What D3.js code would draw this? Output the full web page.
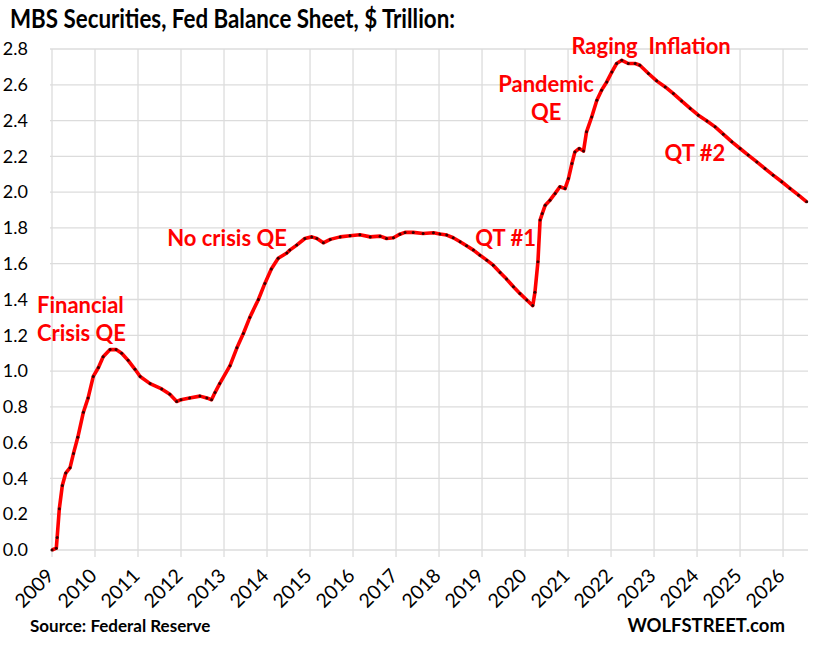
<!DOCTYPE html>
<html>
<head>
<meta charset="utf-8">
<script src="https://cdn.jsdelivr.net/npm/d3@7"></script>
<style>
  body { margin: 0; background: #fff; }
  text { font-family: Lato, "Open Sans", sans-serif; }
</style>
</head>
<body>
<div id="chart"></div>
<script>
// decimal years and MBS holdings ($ trillion)
const dates = [2009.00, 2009.10, 2009.12, 2009.17, 2009.24, 2009.32, 2009.42, 2009.50, 2009.60, 2009.73,
  2009.84, 2009.96, 2010.08, 2010.19, 2010.35, 2010.49, 2010.62, 2010.77, 2010.93, 2011.05,
  2011.28, 2011.55, 2011.74, 2011.90, 2012.00, 2012.20, 2012.44, 2012.60, 2012.71, 2012.79,
  2012.90, 2013.14, 2013.30, 2013.45, 2013.60, 2013.80, 2013.95, 2014.10, 2014.26, 2014.46,
  2014.53, 2014.69, 2014.88, 2015.04, 2015.16, 2015.31, 2015.47, 2015.70, 2015.93, 2016.16,
  2016.40, 2016.63, 2016.78, 2016.94, 2017.09, 2017.21, 2017.40, 2017.63, 2017.87, 2018.02,
  2018.18, 2018.33, 2018.49, 2018.64, 2018.80, 2018.95, 2019.11, 2019.26, 2019.42, 2019.57,
  2019.73, 2019.88, 2020.04, 2020.18, 2020.23, 2020.30, 2020.35, 2020.40, 2020.47, 2020.58,
  2020.70, 2020.81, 2020.93, 2021.01, 2021.09, 2021.16, 2021.26, 2021.36, 2021.43, 2021.55,
  2021.67, 2021.78, 2021.90, 2022.02, 2022.13, 2022.25, 2022.40, 2022.56, 2022.67, 2022.87,
  2023.06, 2023.26, 2023.45, 2023.64, 2023.84, 2024.03, 2024.23, 2024.42, 2024.61, 2024.81,
  2025.00, 2025.19, 2025.39, 2025.58, 2025.77, 2025.97, 2026.16, 2026.36, 2026.55];
const mbs = [0.00, 0.01, 0.07, 0.23, 0.36, 0.43, 0.46, 0.54, 0.63, 0.77,
  0.85, 0.97, 1.02, 1.08, 1.12, 1.12, 1.10, 1.06, 1.01, 0.97,
  0.93, 0.90, 0.87, 0.83, 0.84, 0.85, 0.86, 0.85, 0.84, 0.88,
  0.93, 1.03, 1.13, 1.21, 1.30, 1.40, 1.49, 1.57, 1.63, 1.66,
  1.676, 1.704, 1.741, 1.75, 1.741, 1.717, 1.736, 1.75, 1.756, 1.762,
  1.75, 1.754, 1.741, 1.745, 1.765, 1.775, 1.775, 1.769, 1.773, 1.766,
  1.76, 1.745, 1.723, 1.70, 1.676, 1.648, 1.62, 1.592, 1.551, 1.514,
  1.471, 1.434, 1.397, 1.366, 1.44, 1.611, 1.844, 1.88, 1.927, 1.955,
  1.993, 2.03, 2.02, 2.076, 2.16, 2.225, 2.244, 2.23, 2.337, 2.42,
  2.514, 2.57, 2.616, 2.672, 2.719, 2.737, 2.719, 2.719, 2.709, 2.663,
  2.622, 2.588, 2.551, 2.51, 2.468, 2.43, 2.398, 2.365, 2.324, 2.281,
  2.244, 2.207, 2.169, 2.132, 2.095, 2.058, 2.021, 1.983, 1.946];

const yearTicks = d3.range(2009, 2027);
const valueTicks = d3.range(0, 2.81, 0.2);

// annotation text, anchored at (year, value) of its baseline
const notes = [
  {lines: ["Financial", "Crisis QE"], x: 2009.0, v: 1.325, anchor: "start"},
  {lines: ["No crisis QE"], x: 2013.07, v: 1.70, anchor: "middle"},
  {lines: ["QT #1"], x: 2019.55, v: 1.70, anchor: "middle"},
  {lines: ["Pandemic", "QE"], x: 2020.49, v: 2.56, anchor: "middle"},
  {lines: ["Raging  Inflation"], x: 2022.93, v: 2.77, anchor: "middle"},
  {lines: ["QT #2"], x: 2023.95, v: 2.175, anchor: "middle"}
];

const width = 816, height = 647;
const margin = {top: 49, right: 8, bottom: 97, left: 52};

const svg = d3.select("#chart").append("svg")
  .attr("width", width).attr("height", height);

const x = d3.scaleLinear()
  .domain([2009, 2026.58])
  .range([margin.left, width - margin.right]);
const y = d3.scaleLinear()
  .domain([0, 2.8])
  .range([height - margin.bottom, margin.top]);

// gridlines
svg.append("g")
  .selectAll("line")
  .data(valueTicks)
  .join("line")
  .attr("x1", x.range()[0] - 2).attr("x2", x.range()[1])
  .attr("y1", d => y(d)).attr("y2", d => y(d))
  .attr("stroke", "#dcdcdc").attr("stroke-width", 1.3);

svg.append("g")
  .selectAll("line")
  .data(yearTicks)
  .join("line")
  .attr("x1", d => x(d)).attr("x2", d => x(d))
  .attr("y1", y(2.8)).attr("y2", y(0) + 7)
  .attr("stroke", "#dcdcdc").attr("stroke-width", 1.3);

// y axis labels
svg.append("g")
  .attr("transform", `translate(${margin.left - 21},0)`)
  .call(d3.axisLeft(y).tickValues(valueTicks).tickFormat(d3.format(".1f")).tickSize(0))
  .call(g => g.select(".domain").remove())
  .call(g => g.selectAll("text")
    .attr("font-family", "Lato, sans-serif")
    .attr("font-size", 18).attr("fill", "#000"));

// x axis labels, rotated
svg.append("g")
  .selectAll("text")
  .data(yearTicks)
  .join("text")
  .attr("transform", d => `translate(${x(d) + 3},${y(0) + 27}) rotate(-45)`)
  .attr("text-anchor", "end")
  .attr("font-size", 19.5)
  .attr("fill", "#000")
  .text(d => d);

// the series
const pts = dates.map((d, i) => [d, mbs[i]]);
const line = d3.line().x(d => x(d[0])).y(d => y(d[1]));

svg.append("path")
  .datum(pts)
  .attr("fill", "none")
  .attr("stroke", "#ff0000")
  .attr("stroke-width", 3.6)
  .attr("stroke-linejoin", "round")
  .attr("d", line);

svg.append("g")
  .selectAll("circle")
  .data(pts)
  .join("circle")
  .attr("cx", d => x(d[0])).attr("cy", d => y(d[1]))
  .attr("r", 1.5)
  .attr("fill", "#3a0000");

// annotations
notes.forEach(n => {
  const ax = x(n.x) - (n.anchor == "start" ? 15 : 0);
  const t = svg.append("text")
    .attr("x", ax)
    .attr("y", y(n.v))
    .attr("text-anchor", n.anchor)
    .attr("font-size", 22)
    .attr("font-weight", "bold")
    .attr("fill", "#ff0000");
  n.lines.forEach((l, i) => {
    t.append("tspan")
      .attr("x", ax)
      .attr("dy", i == 0 ? 0 : 28)
      .style("white-space", "pre")
      .text(l);
  });
});

// title and footers
svg.append("text")
  .attr("x", 10).attr("y", 28)
  .attr("font-size", 27).attr("font-weight", "bold")
  .attr("textLength", 445).attr("lengthAdjust", "spacingAndGlyphs")
  .text("MBS Securities, Fed Balance Sheet, $ Trillion:");

svg.append("text")
  .attr("x", 30).attr("y", 632)
  .attr("font-size", 17).attr("font-weight", "bold")
  .text("Source: Federal Reserve");

svg.append("text")
  .attr("x", 785).attr("y", 632)
  .attr("text-anchor", "end")
  .attr("font-size", 18.5).attr("font-weight", "bold")
  .text("WOLFSTREET.com");
</script>
</body>
</html>
